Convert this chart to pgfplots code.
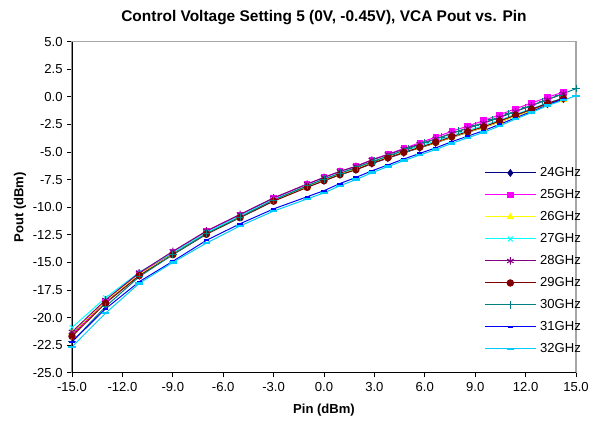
\documentclass[border=0pt]{standalone}
\usepackage{pgfplots}
\pgfplotsset{compat=1.18}
\usepackage{fontspec}
\setmainfont{Liberation Sans}

\definecolor{c24}{RGB}{0,0,128}
\definecolor{c25}{RGB}{255,0,255}
\definecolor{c26}{RGB}{255,255,0}
\definecolor{c27}{RGB}{0,255,255}
\definecolor{c28}{RGB}{128,0,128}
\definecolor{c29}{RGB}{128,0,0}
\definecolor{c30}{RGB}{0,128,128}
\definecolor{c31}{RGB}{0,0,255}
\definecolor{c32}{RGB}{0,204,255}

\begin{document}
\begin{tikzpicture}
\begin{axis}[
  name=ax,
  scale only axis,
  width=378pt, height=248.25pt,
  xmin=-15, xmax=15, ymin=-25, ymax=5,
  xtick={-15,-12,...,15},
  ytick={-25,-22.5,...,5},
  xtick pos=bottom, ytick pos=left,
  tick align=outside,
  major tick length=3.5pt,
  tick style={black, line width=0.6pt},
  axis line style={gray!70, line width=0.8pt},
  /pgf/number format/.cd, fixed, fixed zerofill, precision=1, assume math mode=true,
  /pgfplots/.cd,
  tick label style={font=\fontsize{9.8}{11}\selectfont},
  title={Control Voltage Setting 5 (0V, -0.45V), VCA Pout vs. Pin},
  title style={font=\fontsize{11.6}{13}\selectfont\bfseries, at={(axis description cs:0.5,1)}, anchor=base, yshift=8.8pt},
  xlabel={Pin (dBm)},
  ylabel={Pout (dBm)},
  label style={font=\fontsize{9.8}{11}\selectfont\bfseries},
  xlabel style={at={(axis description cs:0.5,-0.113)}, anchor=center},
  ylabel style={at={(axis description cs:-0.103,0.5)}, anchor=center},
  legend cell align=left,
  legend style={draw=none, fill=none, at={(axis description cs:0.81,0.6456)}, anchor=north west,
    font=\fontsize{9.8}{11}\selectfont, row sep=0pt, column sep=3pt,
    nodes={inner sep=0pt, minimum height=16.5pt}},
  legend image code/.code={\draw[mark repeat=2,mark phase=2,#1] plot coordinates {(0pt,0pt) (19pt,0pt) (38pt,0pt)};},
  every axis plot/.append style={line width=0.75pt},
]
\addplot[c24, mark=diamond*, mark size=2.4pt] coordinates {
(-15,-21.5) (-13,-18.55) (-11,-16.1) (-9,-14.2) (-7,-12.4) (-5,-10.9) (-3,-9.4) (-1,-8.15) (0,-7.6) (0.95,-7.05) (1.9,-6.6) (2.85,-6.05) (3.8,-5.55) (4.75,-5.07) (5.7,-4.62) (6.65,-4.17) (7.6,-3.67) (8.55,-3.22) (9.5,-2.77) (10.45,-2.27) (11.4,-1.73) (12.35,-1.21) (13.3,-0.67) (14.25,-0.2)};
\addlegendentry{24GHz}
\addplot[c25, mark=square*, mark size=2pt] coordinates {
(-15,-21.6) (-13,-18.5) (-11,-16.0) (-9,-14.1) (-7,-12.2) (-5,-10.7) (-3,-9.2) (-1,-7.9) (0,-7.3) (0.95,-6.75) (1.9,-6.3) (2.85,-5.7) (3.8,-5.2) (4.75,-4.68) (5.7,-4.15) (6.65,-3.65) (7.6,-3.12) (8.55,-2.65) (9.5,-2.15) (10.45,-1.62) (11.4,-1.08) (12.35,-0.55) (13.3,-0.05) (14.25,0.45)};
\addlegendentry{25GHz}
\addplot[c26, mark=triangle*, mark size=2.6pt] coordinates {
(-15,-21.4) (-13,-18.5) (-11,-16.1) (-9,-14.25) (-7,-12.4) (-5,-10.9) (-3,-9.4) (-1,-8.15) (0,-7.55) (0.95,-7.0) (1.9,-6.55) (2.85,-5.98) (3.8,-5.5) (4.75,-5.02) (5.7,-4.58) (6.65,-4.15) (7.6,-3.65) (8.55,-3.2) (9.5,-2.77) (10.45,-2.27) (11.4,-1.75) (12.35,-1.25) (13.3,-0.72) (14.25,-0.28)};
\addlegendentry{26GHz}
\addplot[c27, mark=x, mark size=2.5pt] coordinates {
(-15,-20.9) (-13,-18.2) (-11,-15.9) (-9,-14.1) (-7,-12.3) (-5,-10.8) (-3,-9.3) (-1,-8.05) (0,-7.45) (0.95,-6.9) (1.9,-6.45) (2.85,-5.88) (3.8,-5.38) (4.75,-4.9) (5.7,-4.45) (6.65,-4.0) (7.6,-3.5) (8.55,-3.05) (9.5,-2.6) (10.45,-2.1) (11.4,-1.58) (12.35,-1.07) (13.3,-0.55) (14.25,-0.1)};
\addlegendentry{27GHz}
\addplot[c28, mark=asterisk, mark size=2.8pt] coordinates {
(-15,-21.3) (-13,-18.4) (-11,-15.95) (-9,-14.0) (-7,-12.15) (-5,-10.65) (-3,-9.15) (-1,-7.9) (0,-7.3) (0.95,-6.75) (1.9,-6.3) (2.85,-5.72) (3.8,-5.22) (4.75,-4.73) (5.7,-4.27) (6.65,-3.8) (7.6,-3.3) (8.55,-2.85) (9.5,-2.38) (10.45,-1.87) (11.4,-1.33) (12.35,-0.8) (13.3,-0.25) (14.25,0.3)};
\addlegendentry{28GHz}
\addplot[c29, mark=*, mark size=2.4pt] coordinates {
(-15,-21.7) (-13,-18.7) (-11,-16.2) (-9,-14.3) (-7,-12.45) (-5,-10.95) (-3,-9.45) (-1,-8.2) (0,-7.6) (0.95,-7.05) (1.9,-6.6) (2.85,-6.02) (3.8,-5.52) (4.75,-5.03) (5.7,-4.57) (6.65,-4.12) (7.6,-3.61) (8.55,-3.16) (9.5,-2.71) (10.45,-2.19) (11.4,-1.65) (12.35,-1.13) (13.3,-0.58) (14.25,-0.13)};
\addlegendentry{29GHz}
\addplot[c30, mark=+, mark size=2.8pt] coordinates {
(-15,-22.2) (-13,-19.0) (-11,-16.3) (-9,-14.3) (-7,-12.4) (-5,-10.9) (-3,-9.35) (-1,-8.05) (0,-7.45) (1,-6.9) (2,-6.35) (3,-5.8) (4,-5.25) (5,-4.7) (6,-4.15) (7,-3.65) (8,-3.1) (9,-2.6) (10,-2.05) (11,-1.5) (12,-0.95) (13,-0.4) (14,0.15) (15,0.75)};
\addlegendentry{30GHz}
\addplot[c31, mark=-, mark size=2pt, mark options={line width=1.5pt}] coordinates {
(-15,-22.2) (-13,-19.2) (-11,-16.75) (-9,-14.9) (-7,-13.0) (-5,-11.5) (-3,-10.15) (-1,-9.05) (0,-8.5) (0.95,-7.85) (1.9,-7.3) (2.85,-6.7) (3.8,-6.17) (4.75,-5.63) (5.7,-5.12) (6.65,-4.62) (7.6,-4.06) (8.55,-3.56) (9.5,-3.06) (10.45,-2.49) (11.4,-1.9) (12.35,-1.33) (13.3,-0.73) (14.25,-0.2)};
\addlegendentry{31GHz}
\addplot[c32, mark=-, mark size=2.8pt, mark options={line width=1.8pt}] coordinates {
(-15,-22.65) (-13,-19.6) (-11,-16.9) (-9,-15.0) (-7,-13.25) (-5,-11.7) (-3,-10.35) (-1,-9.25) (0,-8.7) (0.95,-8.05) (1.9,-7.5) (2.85,-6.87) (3.8,-6.32) (4.75,-5.78) (5.7,-5.27) (6.65,-4.77) (7.6,-4.21) (8.55,-3.71) (9.5,-3.21) (10.45,-2.64) (11.4,-2.0) (12.35,-1.43) (13.3,-0.78) (14.25,-0.3) (15,0.1)};
\addlegendentry{32GHz}
\draw[black, line width=0.8pt] (rel axis cs:0,1) -- (rel axis cs:0,0) -- (rel axis cs:1,0);
\end{axis}
\pgfresetboundingbox
\path[use as bounding box] ([xshift=-54pt,yshift=-36.2pt]ax.south west) rectangle ([xshift=11.25pt,yshift=31.3pt]ax.north east);
\end{tikzpicture}
\end{document}
